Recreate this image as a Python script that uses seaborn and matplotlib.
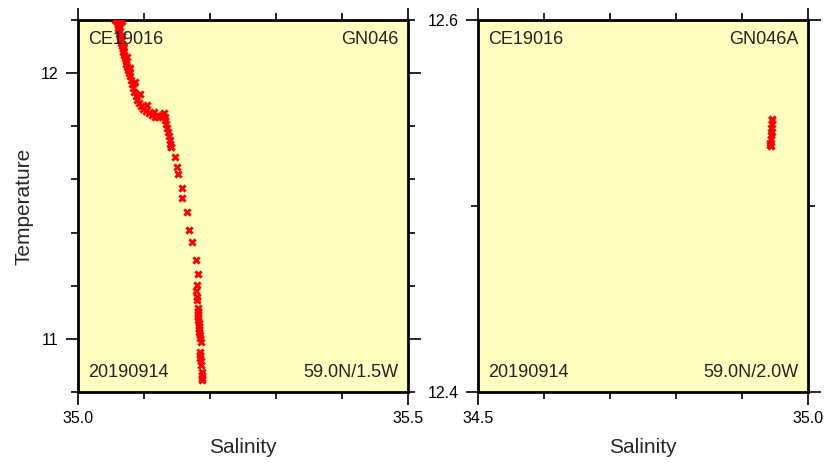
import numpy as np
import pandas as pd
import matplotlib
matplotlib.use('Agg')
import matplotlib.pyplot as plt
from matplotlib.ticker import MultipleLocator, FormatStrFormatter
import seaborn as sns

# station GN046 - salinity / temperature
sal_gn046 = [35.056, 35.061, 35.067, 35.059, 35.061, 35.061, 35.062, 35.062, 35.064, 35.064,
             35.065, 35.067, 35.068, 35.068, 35.070, 35.071, 35.073, 35.073, 35.074, 35.076,
             35.077, 35.079, 35.080, 35.082, 35.083, 35.085, 35.088, 35.089, 35.092, 35.096,
             35.099, 35.103, 35.108, 35.112, 35.117, 35.121, 35.124, 35.127, 35.130, 35.132,
             35.132, 35.133, 35.135, 35.136, 35.138, 35.139, 35.139, 35.141, 35.141, 35.147,
             35.150, 35.152, 35.158, 35.158, 35.165, 35.168, 35.173, 35.179, 35.182, 35.180,
             35.179, 35.180, 35.180, 35.182, 35.182, 35.182, 35.182, 35.182, 35.183, 35.183,
             35.183, 35.183, 35.185, 35.185, 35.186, 35.185, 35.185, 35.185, 35.186, 35.186,
             35.188, 35.188, 35.188, 35.188,
             35.063, 35.066, 35.070, 35.074, 35.079, 35.086, 35.094, 35.104, 35.115]
temp_gn046 = [12.200, 12.200, 12.196, 12.192, 12.181, 12.170, 12.159, 12.147, 12.136, 12.125,
              12.113, 12.102, 12.091, 12.080, 12.068, 12.057, 12.046, 12.034, 12.023, 12.012,
              12.001, 11.989, 11.974, 11.959, 11.944, 11.929, 11.914, 11.899, 11.888, 11.876,
              11.865, 11.857, 11.850, 11.842, 11.835, 11.835, 11.839, 11.842, 11.850, 11.835,
              11.824, 11.809, 11.793, 11.778, 11.763, 11.748, 11.733, 11.722, 11.722, 11.684,
              11.647, 11.620, 11.568, 11.530, 11.477, 11.410, 11.364, 11.297, 11.244, 11.203,
              11.180, 11.157, 11.146, 11.116, 11.105, 11.093, 11.082, 11.071, 11.060, 11.048,
              11.037, 11.026, 11.014, 11.003, 10.988, 10.950, 10.939, 10.928, 10.916, 10.901,
              10.875, 10.864, 10.853, 10.845,
              12.175, 12.140, 12.100, 12.060, 12.020, 11.965, 11.920, 11.880, 11.852]

# station GN046A
sal_gn046a = [34.945, 34.946, 34.945, 34.944, 34.945, 34.944, 34.944, 34.943, 34.943, 34.944]
temp_gn046a = [12.547, 12.546, 12.544, 12.542, 12.540, 12.538, 12.536, 12.534, 12.533, 12.532]

panels = [
    dict(sal=sal_gn046, temp=temp_gn046, cruise='CE19016', station='GN046',
         date='20190914', pos='59.0N/1.5W', xlim=(35.0, 35.5), ylim=(10.8, 12.2),
         ymaj=1.0, ymin=0.2, yfmt='%d'),
    dict(sal=sal_gn046a, temp=temp_gn046a, cruise='CE19016', station='GN046A',
         date='20190914', pos='59.0N/2.0W', xlim=(34.5, 35.0), ylim=(12.4, 12.6),
         ymaj=0.2, ymin=0.1, yfmt='%.1f'),
]

sns.set_style('ticks')
plt.rcParams['font.family'] = ['Liberation Sans', 'DejaVu Sans']

fig = plt.figure(figsize=(8.29, 4.68), dpi=100)
boxes = [[78/829, 76/468, 330/829, 372/468], [478/829, 76/468, 330/829, 372/468]]

for i, p in enumerate(panels):
    ax = fig.add_axes(boxes[i])
    ax.set_facecolor('#ffffbf')
    df = pd.DataFrame({'Salinity': p['sal'], 'Temperature': p['temp']})
    sns.scatterplot(data=df, x='Salinity', y='Temperature', ax=ax, marker='X',
                    s=36, color='red', linewidth=0, zorder=3)
    ax.set_xlim(*p['xlim'])
    ax.set_ylim(*p['ylim'])
    ax.xaxis.set_major_locator(MultipleLocator(0.5))
    ax.xaxis.set_minor_locator(MultipleLocator(0.1))
    ax.xaxis.set_major_formatter(FormatStrFormatter('%.1f'))
    ax.yaxis.set_major_locator(MultipleLocator(p['ymaj']))
    ax.yaxis.set_minor_locator(MultipleLocator(p['ymin']))
    ax.yaxis.set_major_formatter(FormatStrFormatter(p['yfmt']))
    ax.tick_params(which='both', direction='out', top=True, right=True,
                   width=1.2, colors='black', labelsize=11.5, pad=5)
    ax.tick_params(which='major', length=9)
    ax.tick_params(which='minor', length=5)
    for sp in ax.spines.values():
        sp.set_visible(True)
        sp.set_linewidth(2)
        sp.set_color('black')
    ax.set_xlabel('Salinity', fontsize=15, labelpad=8)
    if i == 0:
        ax.set_ylabel('Temperature', fontsize=15, labelpad=5)
    else:
        ax.set_ylabel('')
    kw = dict(transform=ax.transAxes, fontsize=13, color='#222222')
    ax.text(0.03, 0.97, p['cruise'], ha='left', va='top', **kw)
    ax.text(0.97, 0.97, p['station'], ha='right', va='top', **kw)
    ax.text(0.03, 0.03, p['date'], ha='left', va='bottom', **kw)
    ax.text(0.97, 0.03, p['pos'], ha='right', va='bottom', **kw)

fig.savefig('out.png', dpi=100)
